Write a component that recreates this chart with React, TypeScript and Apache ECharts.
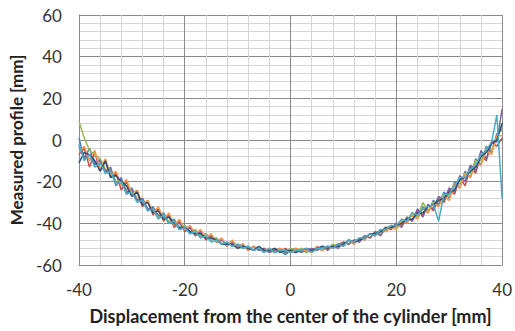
import React, { useEffect, useRef } from "react";
import * as echarts from "echarts";

const xValues: number[] = [];
for (let x = -40; x <= 40; x++) xValues.push(x);

const seriesNames = ["Scan 1", "Scan 2", "Scan 3", "Scan 4", "Scan 5", "Scan 6", "Scan 7"];
const seriesColors = ["#4F81BD", "#C0504D", "#9BBB59", "#8064A2", "#F79646", "#2C4D75", "#4BACC6"];

const scan1 = [
  1, -9, -4, -12, -9, -16, -13, -22, -18, -26,
  -23, -29, -28, -34, -32, -37, -35, -40, -38, -43,
  -41, -45, -43, -47, -45, -48, -47, -50, -49, -51,
  -50, -52, -51, -53, -52, -54, -52, -54, -53, -55,
  -53, -54, -52, -54, -53, -52, -53, -51, -52, -50,
  -51, -48, -50, -47, -48, -45, -46, -43, -44, -41,
  -42, -39, -40, -35, -37, -32, -35, -29, -31, -25,
  -28, -20, -23, -15, -18, -9, -12, -3, -6, 3,
  5,
];
const scan2 = [
  -7, -4, -13, -6, -15, -10, -18, -16, -24, -20,
  -27, -25, -32, -29, -36, -33, -39, -36, -42, -39,
  -44, -42, -46, -44, -48, -46, -49, -48, -51, -49,
  -52, -50, -53, -51, -53, -52, -54, -52, -54, -52,
  -54, -52, -54, -52, -54, -51, -53, -51, -52, -50,
  -49, -50, -48, -49, -46, -47, -44, -45, -42, -43,
  -40, -41, -37, -39, -34, -36, -31, -34, -28, -30,
  -24, -26, -18, -22, -13, -16, -7, -10, -1, -3,
  1,
];
const scan3 = [
  9, 1, -5, -7, -9, -14, -14, -20, -19, -24,
  -24, -28, -29, -33, -33, -37, -36, -39, -39, -42,
  -41, -44, -43, -46, -45, -48, -47, -50, -49, -51,
  -51, -52, -51, -53, -52, -53, -53, -54, -53, -54,
  -52, -53, -52, -54, -52, -53, -52, -52, -50, -51,
  -49, -50, -48, -48, -46, -47, -44, -45, -43, -41,
  -42, -38, -39, -35, -37, -30, -34, -30, -29, -26,
  -27, -21, -21, -16, -16, -10, -10, -4, -5, 1,
  6,
];
const scan4 = [
  -3, -8, -9, -11, -10, -15, -14, -21, -19, -25,
  -24, -29, -28, -33, -33, -36, -37, -37, -41, -40,
  -43, -42, -45, -44, -47, -46, -49, -48, -50, -49,
  -51, -50, -53, -51, -53, -52, -54, -53, -52, -54,
  -53, -52, -54, -53, -52, -53, -51, -53, -51, -52,
  -49, -50, -48, -49, -46, -47, -44, -46, -42, -43,
  -40, -42, -37, -39, -33, -37, -31, -33, -27, -29,
  -23, -25, -17, -20, -12, -15, -5, -9, -1, -1,
  15,
];
const scan5 = [
  -6, -3, -10, -5, -14, -9, -17, -15, -22, -19,
  -26, -24, -31, -29, -35, -32, -38, -35, -41, -38,
  -43, -41, -45, -43, -47, -45, -49, -47, -51, -48,
  -52, -50, -53, -51, -52, -53, -52, -54, -52, -53,
  -54, -52, -53, -53, -54, -51, -53, -52, -52, -50,
  -51, -48, -50, -47, -48, -45, -46, -43, -44, -42,
  -43, -39, -40, -36, -38, -33, -35, -30, -32, -27,
  -29, -21, -23, -16, -18, -11, -12, -5, -7, 2,
  2,
];
const scan6 = [
  -11, -6, -7, -10, -15, -10, -18, -17, -20, -22,
  -27, -25, -31, -30, -35, -34, -38, -37, -40, -42,
  -42, -44, -45, -45, -47, -47, -48, -50, -50, -50,
  -52, -51, -52, -53, -51, -53, -53, -52, -54, -53,
  -53, -54, -53, -52, -53, -52, -51, -52, -51, -51,
  -50, -48, -49, -48, -47, -45, -45, -44, -42, -42,
  -41, -40, -38, -38, -35, -35, -32, -31, -29, -28,
  -25, -24, -19, -18, -15, -13, -8, -6, -2, 0,
  8,
];
const scan7 = [
  -2, -10, -7, -13, -11, -16, -15, -21, -20, -26,
  -25, -30, -29, -34, -33, -38, -36, -40, -39, -43,
  -42, -45, -44, -47, -46, -49, -48, -50, -49, -51,
  -50, -52, -51, -53, -52, -54, -52, -54, -53, -53,
  -54, -53, -53, -52, -54, -52, -52, -51, -52, -50,
  -51, -48, -49, -47, -47, -45, -46, -43, -43, -41,
  -41, -38, -39, -35, -36, -33, -32, -31, -39, -26,
  -26, -22, -18, -18, -14, -12, -7, -5, -1, 12,
  -28,
];
const allScans = [scan1, scan2, scan3, scan4, scan5, scan6, scan7];

const xTitle = "Displacement from the center of the cylinder [mm]";
const yTitle = "Measured profile [mm]";

export default function App() {
  const ref = useRef<HTMLDivElement>(null);
  useEffect(() => {
    if (!ref.current) return;
    const chart = echarts.init(ref.current, null, { renderer: "svg" });
    const font = "Lato, 'Open Sans', sans-serif";
    chart.setOption({
      animation: false,
      backgroundColor: "#ffffff",
      grid: { left: 77, right: 10, top: 15, bottom: 66 },
      xAxis: {
        type: "value",
        min: -40,
        max: 40,
        interval: 20,
        name: xTitle,
        nameLocation: "middle",
        nameGap: 42,
        nameTextStyle: { fontFamily: font, fontSize: 18, fontWeight: "bold", color: "#222" },
        axisLine: { show: true, onZero: false, lineStyle: { color: "#8a8a8a", width: 1 } },
        axisTick: { show: false },
        axisLabel: { fontFamily: font, fontSize: 17, color: "#333", margin: 16 },
        splitLine: { show: true, lineStyle: { color: "#8a8a8a", width: 1 } },
        minorTick: { show: false, splitNumber: 5 },
        minorSplitLine: { show: true, lineStyle: { color: "#d6d6d6", width: 1 } },
      },
      yAxis: {
        type: "value",
        min: -60,
        max: 60,
        interval: 20,
        name: yTitle,
        nameLocation: "middle",
        nameGap: 50,
        nameTextStyle: { fontFamily: font, fontSize: 17, fontWeight: "bold", color: "#222" },
        axisLine: { show: true, onZero: false, lineStyle: { color: "#8a8a8a", width: 1 } },
        axisTick: { show: false },
        axisLabel: { fontFamily: font, fontSize: 17, color: "#333", margin: 17 },
        splitLine: { show: true, lineStyle: { color: "#8a8a8a", width: 1 } },
        minorTick: { show: false, splitNumber: 5 },
        minorSplitLine: { show: true, lineStyle: { color: "#d6d6d6", width: 1 } },
      },
      series: allScans.map((scan, i) => ({
        name: seriesNames[i],
        type: "line",
        showSymbol: false,
        symbol: "none",
        lineStyle: { width: 1.5, color: seriesColors[i] },
        itemStyle: { color: seriesColors[i] },
        data: scan.map((v, j) => [xValues[j], v]),
      })),
    });
    return () => chart.dispose();
  }, []);
  return (
    <div
      ref={ref}
      style={{ position: "fixed", left: 0, top: 0, width: 515, height: 331 }}
    />
  );
}
